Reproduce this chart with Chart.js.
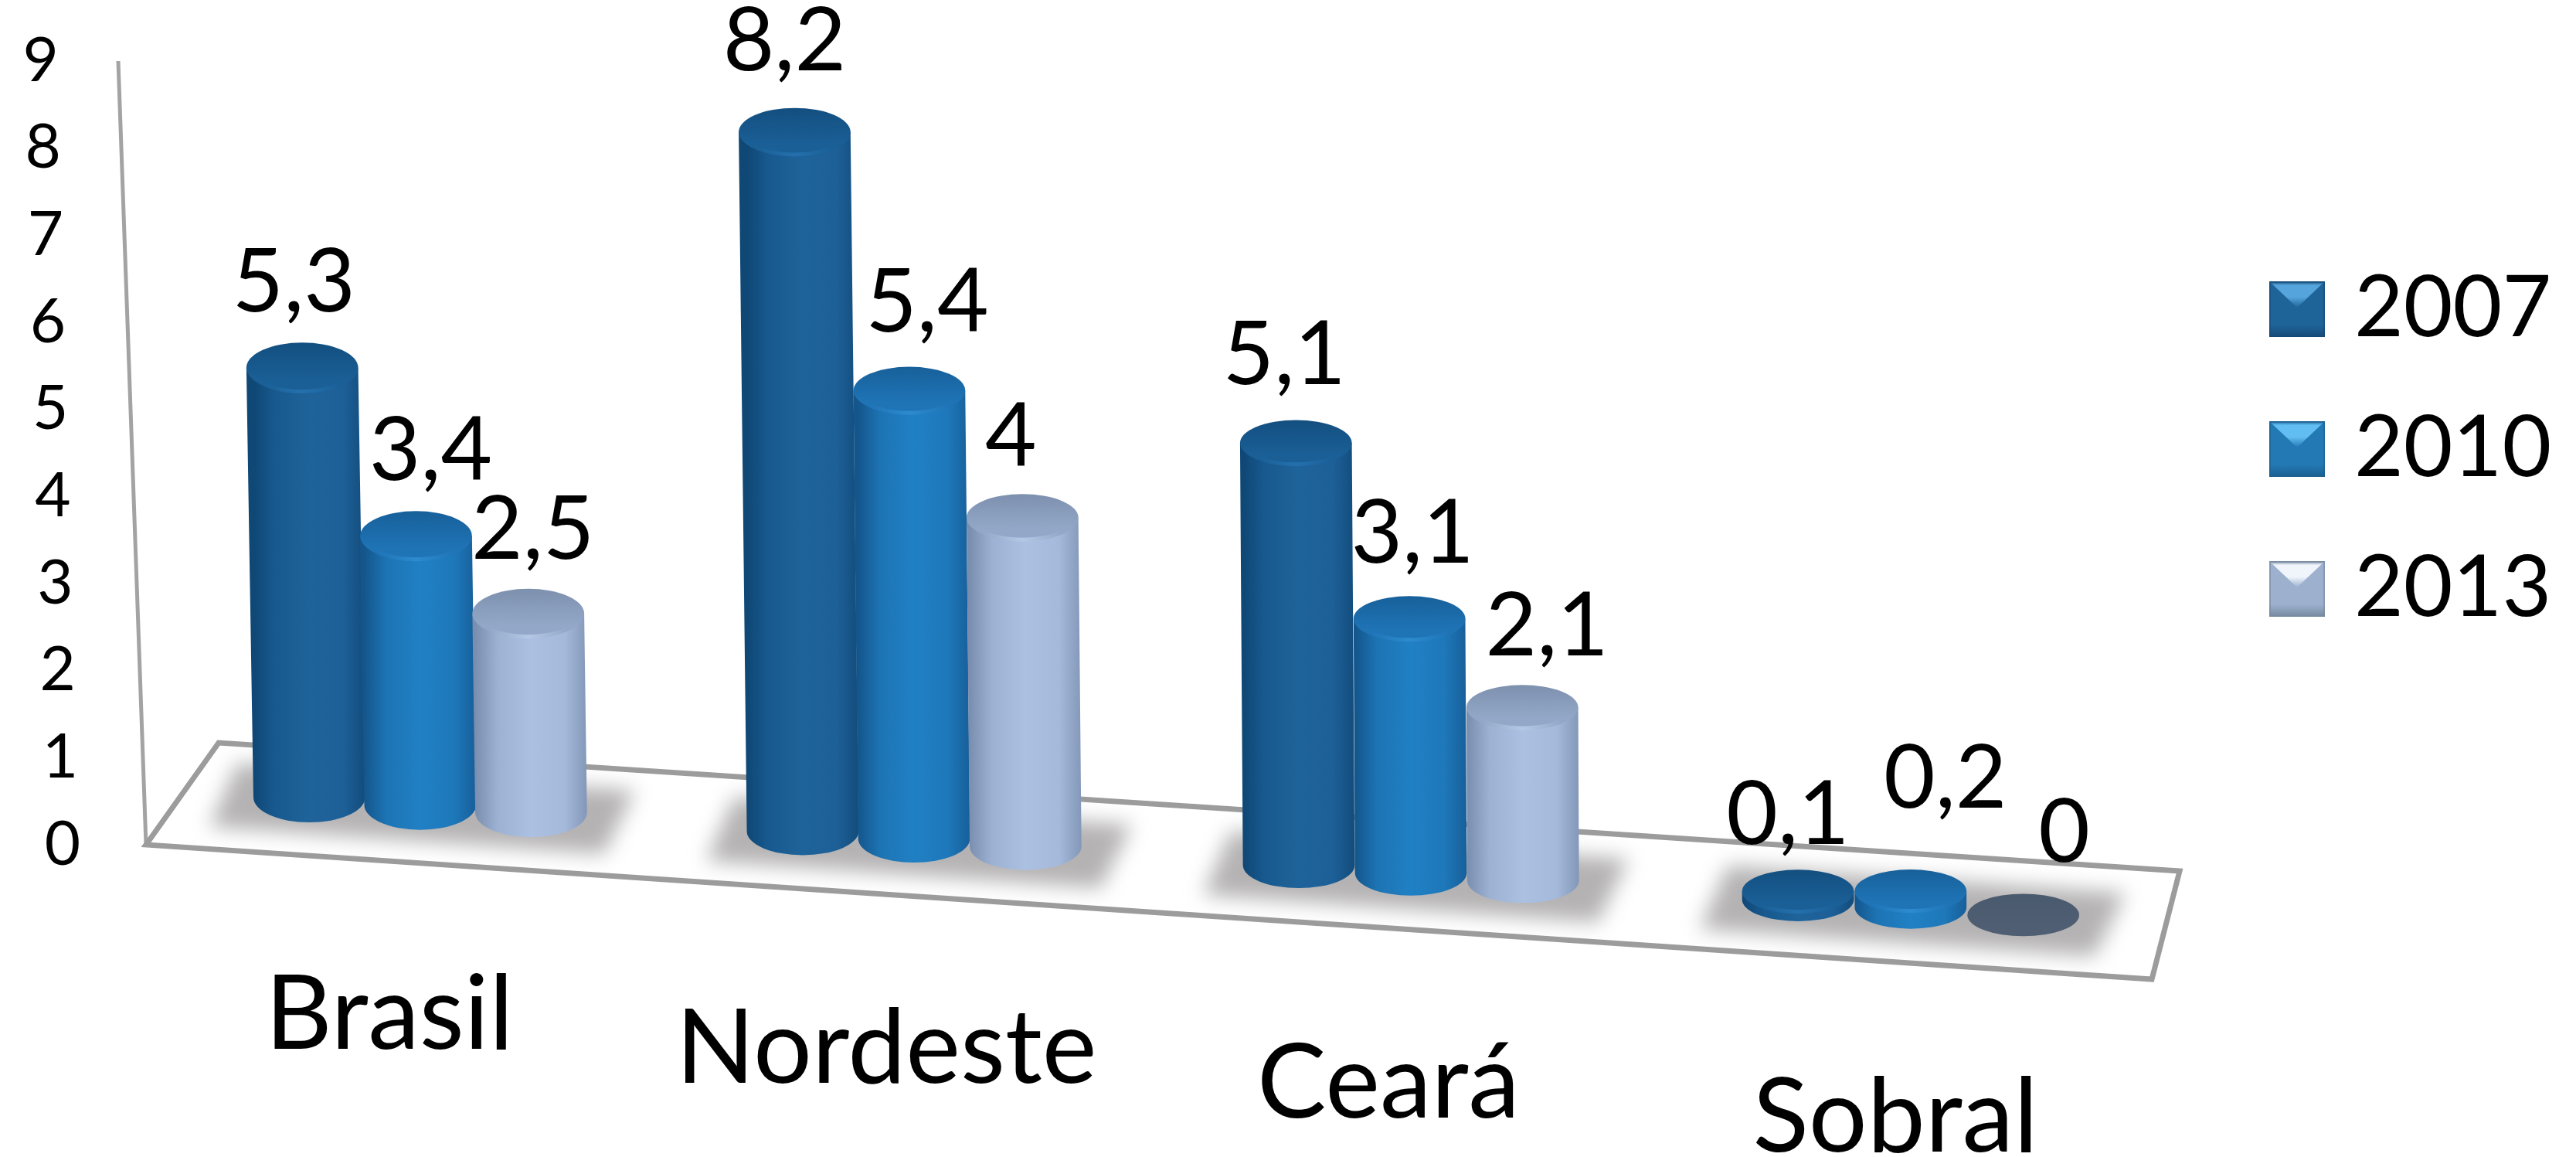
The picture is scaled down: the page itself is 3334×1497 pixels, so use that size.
<!DOCTYPE html>
<html>
<head>
<meta charset="utf-8">
<style>html,body{margin:0;padding:0;background:#fff}canvas{display:block}</style>
<script src="https://cdn.jsdelivr.net/npm/chart.js@4"></script>
</head>
<body>
<canvas id="c" width="3334" height="1497"></canvas>
<script>
const categories = ['Brasil', 'Nordeste', 'Ceará', 'Sobral'];
const seriesNames = ['2007', '2010', '2013'];
const values2007 = [5.3, 8.2, 5.1, 0.1];
const values2010 = [3.4, 5.4, 3.1, 0.2];
const values2013 = [2.5, 4, 2.1, 0];
const yTickLabels = ['0','1','2','3','4','5','6','7','8','9'];

// value-label nudges, per series then category (px, relative to the cap centre)
const labelDx = [[-11,-13,-15,-13],[19,23,4,45],[6,-15,32,53]];
const labelDy = [[110,117,113,98],[110,113,110,145],[108,104,104,106]];

const FONT = 'Lato, Carlito, "Open Sans", sans-serif';
const SLOPE = 0.0687;          // fall of the floor, left to right
const AXIS_LEAN = 0.0355;      // lean of the value axis
const styles = [
  {body:['#0f4775','#185a90','#1e6399','#1d6098','#134c7c'], cap:['#134f80','#1a5f96','#2470ad'], sw:['#1f6499','#55a4dc','#164a78']},
  {body:['#14568c','#1d74b4','#2080c4','#1e78ba','#175f9a'], cap:['#17609a','#1f74b6','#2c8bce'], sw:['#2379b4','#62bdf2','#1b5f90']},
  {body:['#7a8fb0','#9db2d3','#acc1e2','#a5bada','#8397b8'], cap:['#7d90ae','#93a8c8','#b4c8e6'], sw:['#9db1cf','#f0f5fc','#76899f']}
];
const ZERO_CAP = ['#4a5a6e','#4f5e72','#556477'];

function makeSwatch(c){
  const s=72, cv=document.createElement('canvas'); cv.width=s; cv.height=s;
  const g=cv.getContext('2d');
  g.fillStyle=c[0]; g.fillRect(0,0,s,s);
  let gr=g.createLinearGradient(0,s-16,0,s); gr.addColorStop(0,c[0]); gr.addColorStop(1,c[2]);
  g.fillStyle=gr; g.fillRect(0,s-16,s,16);
  gr=g.createLinearGradient(0,0,0,34); gr.addColorStop(0,c[2]); gr.addColorStop(.15,c[1]); gr.addColorStop(.6,c[1]); gr.addColorStop(1,c[0]);
  g.fillStyle=gr; g.beginPath(); g.moveTo(0,0); g.lineTo(s,0); g.lineTo(s/2,34); g.closePath(); g.fill();
  g.strokeStyle=c[2]; g.lineWidth=2; g.globalAlpha=.6; g.strokeRect(1,1,s-2,s-2);
  return cv;
}
const swatches = styles.map(s=>makeSwatch(s.sw));

function floorY(chart,x){ // centre line of the bars on the floor
  const y0=chart.scales.y.getPixelForValue(0);
  return y0-76+SLOPE*(x-chart.scales.x.left+36);
}
function bow(chart,x){ // slight perspective squeeze of the category band
  return Math.sin(Math.PI*(x-chart.scales.x.left)/chart.scales.x.width);
}
function project(chart,el){
  const y0=chart.scales.y.getPixelForValue(0), dy=y0-el.y, bx=el.x-7*bow(chart,el.x), by=floorY(chart,bx);
  const extra=13*Math.min(1,dy/200)*Math.max(0,Math.min(1,(bx-chart.scales.x.left-320)/400));
  const h=0.868*dy+1.05e-4*dy*dy+extra;
  const lean=0.018*(1-(bx-chart.scales.x.left+36)/2400);
  const t=(bx-chart.scales.x.left)/(chart.scales.x.width);
  return {bx,by,tx:bx-lean*h,ty:by-h,rx:el.width/2,ry:33-6*t};
}
function cylinder(ctx,p,st,isZero){
  const {bx,by,tx,ty,rx,ry}=p;
  if(p.ty<p.by-0.5){
    ctx.beginPath();
    ctx.moveTo(tx-rx,ty);
    ctx.lineTo(bx-rx,by);
    ctx.ellipse(bx,by,rx,ry,0,Math.PI,0,true);
    ctx.lineTo(tx+rx,ty);
    ctx.closePath();
    const g=ctx.createLinearGradient(bx-rx,0,bx+rx,0);
    [0,.2,.5,.8,1].forEach((o,i)=>g.addColorStop(o,st.body[i]));
    ctx.fillStyle=g; ctx.fill();
  }
  const capCols=isZero?ZERO_CAP:st.cap;
  const g2=ctx.createLinearGradient(0,ty-ry,0,ty+ry);
  g2.addColorStop(0,capCols[0]); g2.addColorStop(.75,capCols[1]); g2.addColorStop(1,capCols[1]);
  ctx.beginPath(); ctx.ellipse(tx,ty,rx,ry,0,0,Math.PI*2); ctx.fillStyle=g2; ctx.fill();
  if(!isZero){
    // soft rim of light on the front of the cap
    const g3=ctx.createLinearGradient(tx-rx,0,tx+rx,0);
    g3.addColorStop(.15,capCols[1]); g3.addColorStop(.5,capCols[2]); g3.addColorStop(.85,capCols[1]);
    ctx.beginPath(); ctx.ellipse(tx,ty,rx-4,ry-2,0,Math.PI*0.2,Math.PI*0.8);
    ctx.strokeStyle=g3; ctx.lineWidth=5; ctx.stroke();
  }
}

const scene3d = {
  id:'scene3d',
  beforeDraw(chart){
    const {x:xs,y:ys}=chart.scales, lg=chart.legend, pad=lg.options.labels.padding;
    lg.left=2954-pad; lg.right=3334; lg.top=345-pad; lg.bottom=1300; lg.width=lg.right-lg.left; lg.height=lg.bottom-lg.top;
    ys.getLabelItems().forEach((it)=>{
      const v=+it.label;
      const px=ys.getPixelForValue(v);
      it.options.textAlign='center';
      it.options.translation=[xs.left-36-0.028*(ys.getPixelForValue(0)-px)-108,px];
    });
    xs.getLabelItems().forEach((it,i)=>{
      const cx=xs.getPixelForTick(i);
      it.textOffset=0;
      it.options.textBaseline='middle';
      it.options.textAlign='center';
      it.options.translation=[cx-38+0.0105*(cx-546)-12*bow(chart,cx),1314+SLOPE*(cx-546)];
    });
  },
  beforeDatasetsDraw(chart){
    const {ctx}=chart, {x:xs,y:ys}=chart.scales, y0=ys.getPixelForValue(0), L=xs.left, R=xs.right;
    // value axis wall edge and floor outline
    ctx.save();
    ctx.lineJoin='miter'; ctx.strokeStyle='#a3a3a3'; ctx.lineWidth=5;
    ctx.beginPath();
    ctx.moveTo(L-36-AXIS_LEAN*(y0-ys.getPixelForValue(9)),ys.getPixelForValue(9));
    ctx.lineTo(L-36,y0);
    ctx.stroke();
    ctx.strokeStyle='#9c9c9c'; ctx.lineWidth=7;
    ctx.beginPath();
    ctx.moveTo(L-36,y0);
    ctx.lineTo(L+58,y0-132);
    ctx.lineTo(R+24,y0+34);
    ctx.lineTo(R-12,y0+174);
    ctx.closePath(); ctx.stroke();
    // blurred shadows under every group
    const m0=chart.getDatasetMeta(0), m2=chart.getDatasetMeta(2);
    ctx.fillStyle='#b4b2b2';
    ctx.filter='blur(13px)';
    m0.data.forEach((el,i)=>{
      const l=el.x-el.width/2-46, r=m2.data[i].x+m2.data[i].width/2+34;
      const yl=floorY(chart,l), yr=floorY(chart,r);
      ctx.beginPath();
      ctx.moveTo(l+24,yl-36);
      ctx.lineTo(r+24,yr-36);
      ctx.lineTo(r-16,yr+46);
      ctx.lineTo(l-12,yl+46);
      ctx.closePath(); ctx.fill();
    });
    ctx.restore();
  },
  beforeDatasetDraw(){ return false; },
  afterDatasetsDraw(chart){
    const {ctx}=chart;
    ctx.save();
    const all=[values2007,values2010,values2013];
    categories.forEach((_,i)=>{
      all.forEach((vals,d)=>{
        const el=chart.getDatasetMeta(d).data[i];
        cylinder(ctx,project(chart,el),styles[d],vals[i]===0);
      });
    });
    ctx.fillStyle='#000'; ctx.font='115px '+FONT; ctx.textAlign='center'; ctx.textBaseline='middle';
    all.forEach((vals,d)=>vals.forEach((v,i)=>{
      const p=project(chart,chart.getDatasetMeta(d).data[i]);
      ctx.fillText(String(v).replace('.',','),p.tx+labelDx[d][i],p.ty-labelDy[d][i]);
    }));
    ctx.restore();
  }
};

const seriesValues=[values2007,values2010,values2013];
new Chart(document.getElementById('c'),{
  type:'bar',
  data:{
    labels:categories,
    datasets:seriesNames.map((n,d)=>({label:n,data:seriesValues[d],backgroundColor:styles[d].body[2],borderWidth:0}))
  },
  options:{
    responsive:false,
    animation:false,
    events:[],
    layout:{padding:{top:79,right:537,left:0,bottom:0}},
    datasets:{bar:{categoryPercentage:0.675,barPercentage:1}},
    plugins:{
      title:{display:false},
      tooltip:{enabled:false},
      legend:{
        display:true,
        position:'chartArea',
        align:'start',
        labels:{
          color:'#000',
          font:{family:FONT,size:110},
          usePointStyle:true,
          pointStyleWidth:38,
          boxWidth:38,
          padding:71,
          generateLabels(chart){
            const items=Chart.defaults.plugins.legend.labels.generateLabels(chart);
            items.forEach(it=>{it.pointStyle=swatches[it.datasetIndex];});
            return items;
          }
        }
      }
    },
    scales:{
      x:{
        type:'category',
        grid:{display:false},
        border:{display:false},
        afterFit(s){s.height=404;},
        ticks:{color:'#000',font:{family:FONT,size:134},autoSkip:false,maxRotation:0,minRotation:0}
      },
      y:{
        type:'linear',min:0,max:9,
        grid:{display:false},
        border:{display:false},
        afterFit(s){s.width=225;},
        ticks:{color:'#000',font:{family:FONT,size:80},stepSize:1,autoSkip:false,
          callback(v){return yTickLabels[v];}}
      }
    }
  },
  plugins:[scene3d]
});
</script>
</body>
</html>
